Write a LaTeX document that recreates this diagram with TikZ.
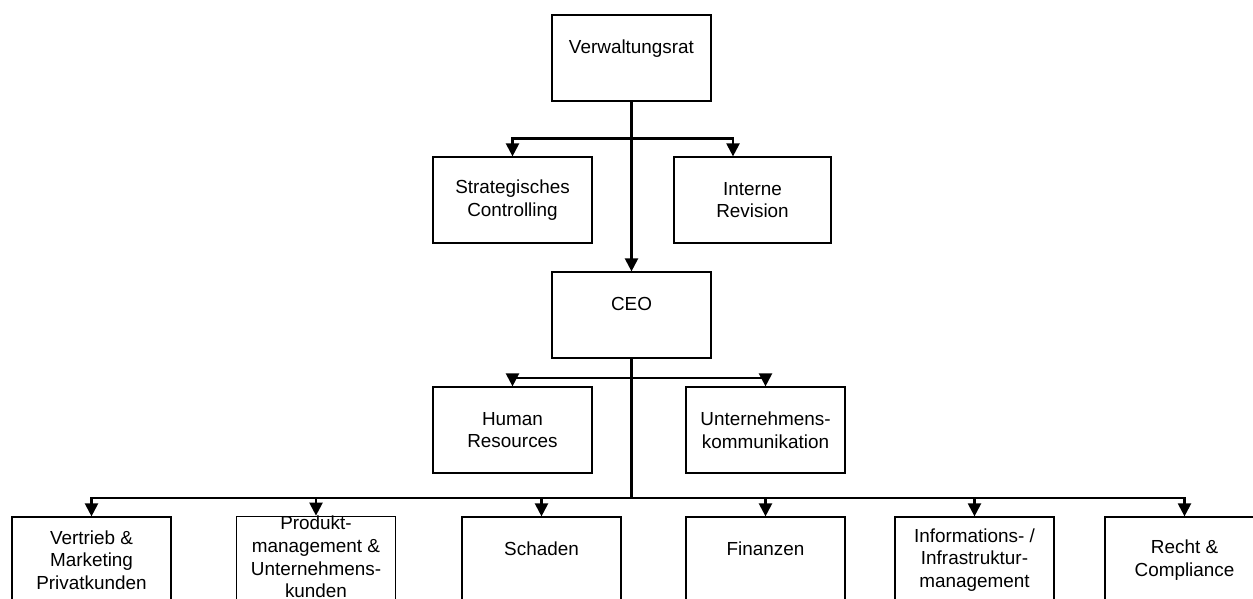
\documentclass[tikz,border=0pt]{standalone}
\usepackage{fontspec}
\setmainfont{Liberation Sans}
\usetikzlibrary{arrows.meta}
\begin{document}
\begin{tikzpicture}[x=1pt,y=-1pt,
  box/.style={draw=black, line width=1.2pt, minimum width=159pt, minimum height=86pt,
    inner sep=0pt, align=center, font=\fontsize{18.9}{22.6}\selectfont},
  line/.style={draw=black, line width=2.2pt},
  conn/.style={line, -{Triangle[length=13pt,width=13pt]}}]
\useasboundingbox (0,0) rectangle (1253,599);
\clip (0,0) rectangle (1253,599);
\fill[white] (0,0) rectangle (1253,599);
% nodes
\node[box] (vr)  at (631.5,58)  {Verwaltungsrat\\\mbox{}};
\node[box] (sc)  at (512.5,200) {Strategisches\\Controlling};
\node[box, minimum width=157pt] (ir)  at (752.5,200) {Interne\\Revision};
\node[box] (ceo) at (631.5,315) {CEO\\\mbox{}};
\node[box] (hr)  at (512.5,430) {Human\\Resources};
\node[box] (uk)  at (765.5,430) {Unternehmens-\\kommunikation};
\node[box] (b1)  at (91.5,560)  {Vertrieb \&\\Marketing\\Privatkunden};
\node[box] (b2)  at (316,560)   {Produkt-\\management \&\\Unternehmens-\\kunden\rule[-6pt]{0pt}{6pt}};
\node[box] (b3)  at (541.5,560) {Schaden\\\mbox{}};
\node[box] (b4)  at (765.5,560) {Finanzen\\\mbox{}};
\node[box] (b5)  at (974.5,560) {Informations- /\\Infrastruktur-\\management};
\node[box] (b6)  at (1184.5,560) {Recht \&\\Compliance};
% junctions
\path (vr.south) ++(0,37) coordinate (j1);
\path (ceo.south) ++(0,19) coordinate (j2);
\path (ceo.south) ++(0,139) coordinate (j3);
\coordinate (irin) at ([xshift=-19.5pt]ir.north);
% connectors
\draw[conn] (vr.south) -- (ceo.north);
\draw[conn] (j1) -| (sc.north);
\draw[conn] (j1) -| (irin);
\draw[line] (ceo.south) -- (j3);
\draw[conn] (j2) -| (hr.north);
\draw[conn] (j2) -| (uk.north);
\draw[conn] (j3) -| (b1.north);
\draw[conn] (j3) -| (b2.north);
\draw[conn] (j3) -| (b3.north);
\draw[conn] (j3) -| (b4.north);
\draw[conn] (j3) -| (b5.north);
\draw[conn] (j3) -| (b6.north);
\end{tikzpicture}
\end{document}
